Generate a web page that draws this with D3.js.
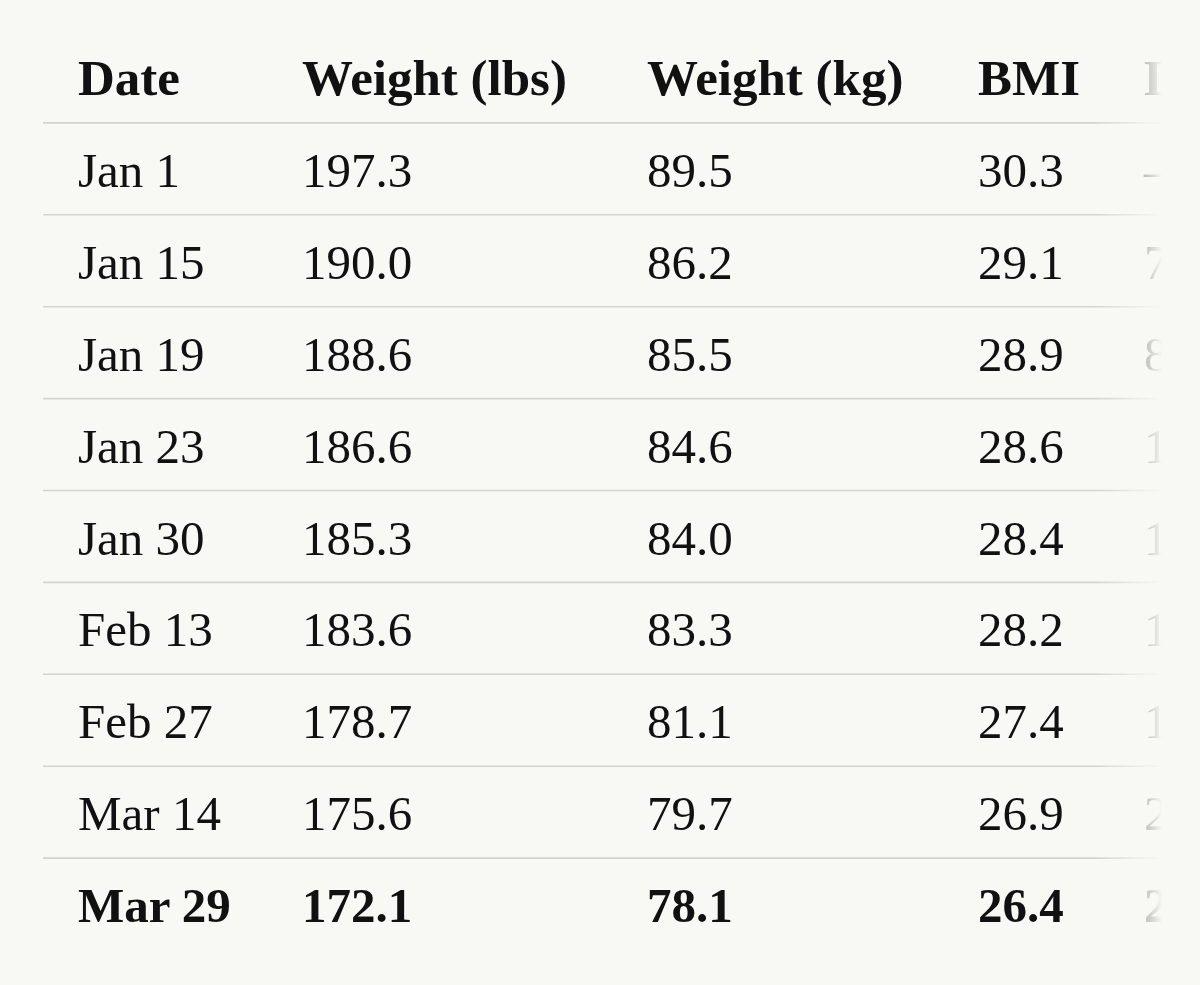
<!DOCTYPE html>
<html>
<head>
<meta charset="utf-8">
<script src="https://cdn.jsdelivr.net/npm/d3@7"></script>
<style>
html,body{margin:0;padding:0;background:#f8f8f4;overflow:hidden;}
svg{display:block;}
</style>
</head>
<body>
<svg id="chart" width="1200" height="985"></svg>
<script>
// ---- data ----
const headers = ["Date", "Weight (lbs)", "Weight (kg)", "BMI", "Lost (lbs)"];
const dates = ["Jan 1", "Jan 15", "Jan 19", "Jan 23", "Jan 30", "Feb 13", "Feb 27", "Mar 14", "Mar 29"];
const weightLbs = ["197.3", "190.0", "188.6", "186.6", "185.3", "183.6", "178.7", "175.6", "172.1"];
const weightKg = ["89.5", "86.2", "85.5", "84.6", "84.0", "83.3", "81.1", "79.7", "78.1"];
const bmi = ["30.3", "29.1", "28.9", "28.6", "28.4", "28.2", "27.4", "26.9", "26.4"];
const lostLbs = ["–", "7.3", "8.7", "10.7", "12.0", "13.7", "18.6", "21.7", "25.2"];

// ---- layout ----
const W = 1200, H = 985;
const svg = d3.select("#chart");
const rowKeys = ["header"].concat(dates);
const y = d3.scaleBand().domain(rowKeys).range([31, 31 + 91.9 * rowKeys.length]).padding(0);
const colX = d3.scaleOrdinal().domain(d3.range(headers.length)).range([78, 302, 647, 978, 1144]);
const font = "'Liberation Serif', 'Times New Roman', serif";

const defs = svg.append("defs");
const grad = defs.append("linearGradient").attr("id", "fade")
  .attr("gradientUnits", "userSpaceOnUse").attr("x1", 0).attr("x2", W).attr("y1", 0).attr("y2", 0);
grad.append("stop").attr("offset", 1095 / W).attr("stop-color", "#fff").attr("stop-opacity", 1);
grad.append("stop").attr("offset", 1135 / W).attr("stop-color", "#fff").attr("stop-opacity", 0.35);
grad.append("stop").attr("offset", 1150 / W).attr("stop-color", "#fff").attr("stop-opacity", 0.18);
grad.append("stop").attr("offset", 1162 / W).attr("stop-color", "#fff").attr("stop-opacity", 0);
defs.append("mask").attr("id", "fadeMask")
  .append("rect").attr("x", 0).attr("y", 0).attr("width", W).attr("height", H).attr("fill", "url(#fade)");
defs.append("clipPath").attr("id", "clipR")
  .append("rect").attr("x", 0).attr("y", 0).attr("width", 1165).attr("height", H);

const g = svg.append("g").attr("clip-path", "url(#clipR)").append("g").attr("mask", "url(#fadeMask)");

// separator lines (all rows except last)
g.selectAll("line.sep").data(rowKeys.slice(0, -1)).join("line")
  .attr("class", "sep")
  .attr("x1", 43).attr("x2", 1165)
  .attr("y1", d => y(d) + y.bandwidth()).attr("y2", d => y(d) + y.bandwidth())
  .attr("stroke", "#d4d4cf").attr("stroke-width", 1.6);

// header
g.selectAll("text.hdr").data(headers).join("text")
  .attr("class", "hdr")
  .attr("x", (d, i) => colX(i)).attr("y", y("header") + 64)
  .attr("font-family", font).attr("font-weight", 700).attr("font-size", 51)
  .attr("fill", "#111").text(d => d);

// rows
const rows = dates.map((d, i) => [d, weightLbs[i], weightKg[i], bmi[i], lostLbs[i]]);
const rowG = g.selectAll("g.row").data(rows).join("g").attr("class", "row")
  .attr("transform", (r, i) => `translate(0,${y(dates[i]) + 64})`);
rowG.selectAll("text").data((r, i) => r.map(v => ({v, last: i === rows.length - 1}))).join("text")
  .attr("x", (d, j) => colX(j)).attr("y", 0)
  .attr("font-family", font)
  .attr("font-weight", d => d.last ? 700 : 400)
  .attr("font-size", 49)
  .attr("fill", "#111").text(d => d.v);
</script>
</body>
</html>
